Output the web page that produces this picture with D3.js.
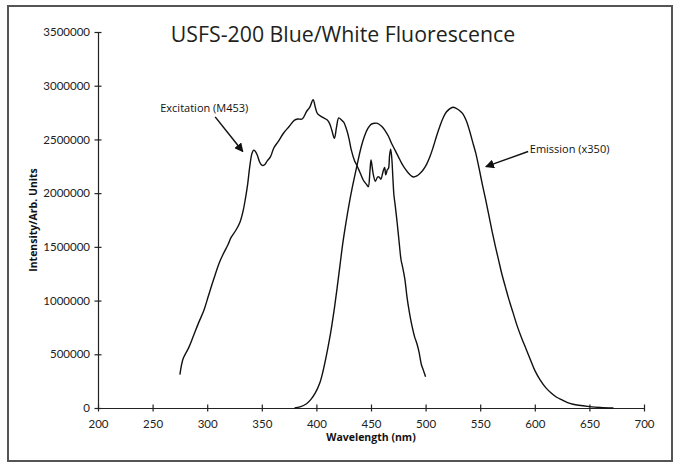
<!DOCTYPE html>
<html>
<head>
<meta charset="utf-8">
<script src="https://cdn.jsdelivr.net/npm/d3@7"></script>
<style>
  body { margin: 0; background: #fff; }
  svg { display: block; }
  .tick text { font-family: Lato, "Liberation Sans", sans-serif; font-size: 11.5px; fill: #222; }
  .axis path, .axis line { stroke: #222; stroke-width: 1.2; }
</style>
</head>
<body>
<div id="chart"></div>
<script>
// Excitation spectrum (M453)
const excitationWl = [275, 278, 283, 287, 292, 297, 301, 306, 311, 315, 319, 322, 326, 330, 333, 335, 337, 339, 341, 342.5,
  344, 346, 348, 350, 352, 355, 358, 361, 365, 370, 375, 380, 383, 387, 391, 394, 397, 399, 401, 405,
  410, 412, 414, 416.5, 418.5, 420.5, 423, 425, 428, 430, 432, 435, 437, 440, 443, 446, 447.5, 449, 450, 451,
  452, 454, 456, 457.5, 459, 461, 462.5, 463.5, 465, 466, 467, 468, 469, 470, 471, 472, 474, 476, 477.5, 479,
  481, 483, 485, 487, 490, 492, 494, 496, 498, 500];
const excitationI = [310000, 460000, 560000, 660000, 790000, 910000, 1040000, 1200000, 1350000, 1440000, 1520000, 1590000, 1650000, 1730000, 1840000, 1950000, 2080000, 2250000, 2370000, 2400000,
  2390000, 2350000, 2290000, 2260000, 2260000, 2300000, 2340000, 2420000, 2480000, 2560000, 2620000, 2680000, 2690000, 2690000, 2760000, 2800000, 2870000, 2800000, 2740000, 2710000,
  2680000, 2650000, 2590000, 2510000, 2620000, 2700000, 2680000, 2660000, 2580000, 2500000, 2400000, 2300000, 2260000, 2190000, 2120000, 2080000, 2060000, 2200000, 2310000, 2250000,
  2180000, 2110000, 2150000, 2150000, 2130000, 2200000, 2240000, 2170000, 2220000, 2230000, 2350000, 2410000, 2330000, 2150000, 1980000, 1900000, 1720000, 1520000, 1380000, 1310000,
  1200000, 1030000, 900000, 790000, 660000, 600000, 520000, 410000, 350000, 290000];

// Emission spectrum (x350)
const emissionWl = [380, 385, 391, 395, 399, 403, 406, 409, 412, 414, 416.5, 419, 421.5, 424, 427, 430, 433, 437, 441, 444,
  447, 450, 453, 456, 460, 463, 466, 469, 472, 475, 478, 481, 484, 487, 489, 492, 495, 498, 501, 504,
  507, 510, 513, 516, 519, 522, 525, 528, 531, 534, 537, 540, 543, 546, 549, 552, 555, 558, 561, 564,
  567, 570, 573, 576, 580, 584, 588, 592, 596, 600, 605, 610, 615, 620, 625, 630, 635, 640, 650, 660, 672];
const emissionI = [0, 10000, 40000, 80000, 140000, 230000, 340000, 480000, 640000, 760000, 930000, 1120000, 1320000, 1520000, 1720000, 1900000, 2060000, 2250000, 2430000, 2530000,
  2600000, 2640000, 2650000, 2650000, 2620000, 2580000, 2530000, 2460000, 2400000, 2340000, 2280000, 2230000, 2190000, 2160000, 2150000, 2160000, 2185000, 2220000, 2270000, 2340000,
  2430000, 2530000, 2620000, 2700000, 2755000, 2785000, 2800000, 2790000, 2770000, 2740000, 2680000, 2590000, 2480000, 2370000, 2230000, 2080000, 1940000, 1790000, 1640000, 1500000,
  1370000, 1240000, 1130000, 1020000, 890000, 760000, 650000, 550000, 450000, 350000, 260000, 190000, 140000, 100000, 75000, 50000, 35000, 25000, 13000, 5000, 0];

const xDomain = [200, 700];
const yDomain = [0, 3500000];

const chartTitle = 'USFS-200 Blue/White Fluorescence';
const xTitle = 'Wavelength (nm)';
const yTitle = 'Intensity/Arb. Units';

// annotations, in data units: text anchor, arrow start, arrow tip
const notes = [
  { text: 'Excitation (M453)', tx: 257, ty: 2757000, from: [307.3, 2710000], to: [332.6, 2387000] },
  { text: 'Emission (x350)', tx: 595.4, ty: 2374000, from: [593.9, 2387000], to: [555.2, 2247000] }
];

const width = 674, height = 462;
const margin = { left: 98, top: 32, right: 30, bottom: 54 };

const svg = d3.select('#chart').append('svg')
  .attr('width', width)
  .attr('height', height);

// frame
svg.append('rect')
  .attr('x', 8).attr('y', 6)
  .attr('width', 664).attr('height', 455)
  .attr('fill', 'none')
  .attr('stroke', '#555')
  .attr('stroke-width', 2);

const x = d3.scaleLinear().domain(xDomain).range([margin.left, width - margin.right]);
const y = d3.scaleLinear().domain(yDomain).range([height - margin.bottom, margin.top]);

const xAxis = svg.append('g')
  .attr('class', 'axis')
  .attr('transform', `translate(0,${y(0)})`)
  .call(d3.axisBottom(x).ticks(10).tickSizeOuter(0).tickSizeInner(4));
xAxis.selectAll('.tick line').attr('y1', -3.5).attr('y2', 3.5);
xAxis.selectAll('.tick text').attr('y', 12);

const yAxis = svg.append('g')
  .attr('class', 'axis')
  .attr('transform', `translate(${x(200)},0)`)
  .call(d3.axisLeft(y).ticks(7).tickFormat(d3.format('d')).tickSizeOuter(0).tickSizeInner(4));
yAxis.selectAll('.tick line').attr('x1', -3.5).attr('x2', 3.5);
yAxis.selectAll('.tick text').attr('x', -8);

// curves
const line = d3.line()
  .x(d => x(d[0]))
  .y(d => y(d[1]))
  .curve(d3.curveCatmullRom.alpha(0.5));

[[excitationWl, excitationI], [emissionWl, emissionI]].forEach(([wl, vals]) => {
  svg.append('path')
    .datum(d3.zip(wl, vals))
    .attr('d', line)
    .attr('fill', 'none')
    .attr('stroke', '#111')
    .attr('stroke-width', 1.4)
    .attr('stroke-linejoin', 'round');
});

// arrowhead
svg.append('defs').append('marker')
  .attr('id', 'head')
  .attr('viewBox', '0 0 10 10')
  .attr('refX', 9).attr('refY', 5)
  .attr('markerWidth', 9).attr('markerHeight', 9)
  .attr('markerUnits', 'userSpaceOnUse')
  .attr('orient', 'auto')
  .append('path')
  .attr('d', 'M0,0 L10,5 L0,10 Z')
  .attr('fill', '#111');

notes.forEach(n => {
  svg.append('text')
    .attr('x', x(n.tx)).attr('y', y(n.ty))
    .attr('font-family', '"Open Sans", sans-serif')
    .attr('font-size', 11)
    .attr('fill', '#111')
    .text(n.text);
  svg.append('line')
    .attr('x1', x(n.from[0])).attr('y1', y(n.from[1]))
    .attr('x2', x(n.to[0])).attr('y2', y(n.to[1]))
    .attr('stroke', '#111')
    .attr('stroke-width', 1.5)
    .attr('marker-end', 'url(#head)');
});

// titles
svg.append('text')
  .attr('x', 343).attr('y', 42)
  .attr('text-anchor', 'middle')
  .attr('font-family', '"Open Sans", sans-serif')
  .attr('font-size', 21.3)
  .attr('fill', '#231f20')
  .text(chartTitle);

svg.append('text')
  .attr('x', (x(200) + x(700)) / 2).attr('y', 441)
  .attr('text-anchor', 'middle')
  .attr('font-family', '"Open Sans", sans-serif')
  .attr('font-weight', 'bold')
  .attr('font-size', 10.5)
  .attr('fill', '#111')
  .text(xTitle);

svg.append('text')
  .attr('transform', `translate(37,${(y(0) + y(3500000)) / 2}) rotate(-90)`)
  .attr('text-anchor', 'middle')
  .attr('font-family', '"Open Sans", sans-serif')
  .attr('font-weight', 'bold')
  .attr('font-size', 10.5)
  .attr('fill', '#111')
  .text(yTitle);
</script>
</body>
</html>
